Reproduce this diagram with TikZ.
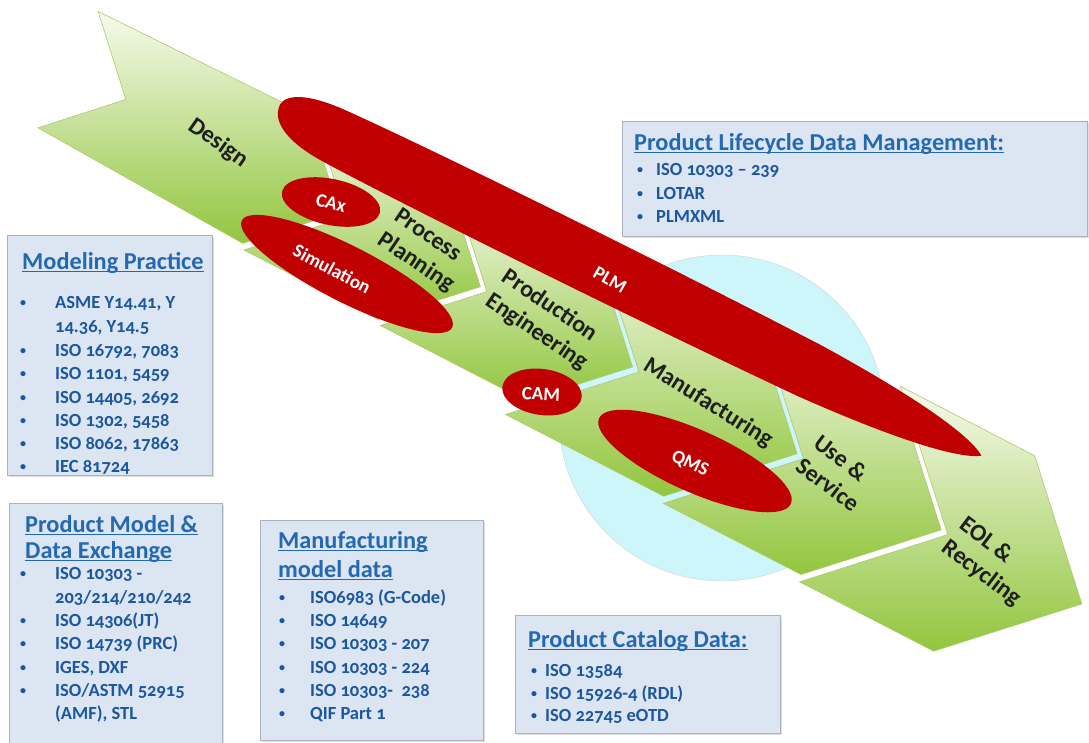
\documentclass[tikz,border=0pt]{standalone}
\usepackage{fontspec}
\setmainfont{Carlito}
\newfontfamily\numfont{Carlito}[Numbers=OldStyle]
\usetikzlibrary{shapes.geometric,shadows}
\definecolor{chevlight}{RGB}{246,250,236}
\definecolor{chevgreen}{RGB}{146,198,62}
\definecolor{chevline}{RGB}{176,200,110}
\definecolor{plmred}{RGB}{192,0,0}
\definecolor{cyanc}{RGB}{204,246,250}
\definecolor{boxfill}{RGB}{220,230,243}
\definecolor{boxline}{RGB}{170,178,192}
\definecolor{titleblue}{RGB}{36,104,178}
\definecolor{itemblue}{RGB}{28,86,158}
\begin{document}
\begin{tikzpicture}[x=1pt,y=-1pt,
  chev/.style={draw=chevline, line width=0.6pt, top color=chevlight, bottom color=chevgreen},
  redell/.style={ellipse, fill=plmred, draw=none, inner sep=0pt},
  redtxt/.style={text=white, font=\fontsize{19}{21}\selectfont\bfseries, inner sep=0pt},
  chevtxt/.style={font=\fontsize{24}{29}\selectfont\bfseries, text=black!88, align=left, inner sep=0pt},
  infobox/.style={draw=boxline, fill=boxfill, line width=0.8pt, anchor=north west, inner sep=0pt,
    drop shadow={opacity=0.25, shadow xshift=1.5pt, shadow yshift=-1.5pt}},
  titletxt/.style={anchor=base west, text=titleblue, font=\numfont\fontsize{24.3}{26}\selectfont\bfseries, inner sep=0pt},
  uline/.style={draw=titleblue, line width=1.1pt},
  itemtxt/.style={anchor=base west, text=itemblue, font=\numfont\fontsize{18.5}{22}\selectfont\bfseries, inner sep=0pt},
  bultxt/.style={anchor=base west, text=itemblue, font=\fontsize{12}{14}\selectfont\bfseries, inner sep=0pt, yshift=1.5pt}
]
\useasboundingbox (0,0) rectangle (1089,742);

% background circle
\node[circle, draw=gray!35, fill=cyanc, minimum size=326pt, inner sep=0pt] (cyc) at (722,418) {};

% chevrons
\begin{scope}[shift={(333,206)}, rotate=-27.33]
  \path[chev] (-298,-65) -- (-63,-69.4) -- (9,2.6) -- (-63,74.6) -- (-298,66) -- (-233,0.5) -- cycle;
  \path[chev] (-59,-72) -- (92,-72) -- (168,4) -- (92,80) -- (-59,80) -- (17,4) -- cycle;
  \path[chev] (97,-73.6) -- (261,-73.6) -- (340,5.4) -- (261,84.4) -- (97,84.4) -- (176,5.4) -- cycle;
  \path[chev] (249,-92) -- (427,-92) -- (526,7) -- (427,106) -- (249,106) -- (348,7) -- cycle;
  \path[chev] (430,-95.5) -- (585,-95.5) -- (689,8.5) -- (585,112.5) -- (430,112.5) -- (534,8.5) -- cycle;
  \path[chev] (587,-100.3) -- (738,-100.3) -- (848,9.7) -- (738,119.7) -- (587,119.7) -- (697,9.7) -- cycle;
\end{scope}

% PLM band
\begin{scope}[shift={(630,282)}, rotate=-26.3]
  \fill[plmred] (392,0) .. controls (372,-14) and (300,-24) .. (200,-28)
    .. controls (0,-32) and (-250,-31) .. (-330,-28)
    .. controls (-385,-26) and (-395,-10) .. (-392,0)
    .. controls (-390,12) and (-375,26) .. (-330,28)
    .. controls (-250,31) and (0,32) .. (200,28)
    .. controls (300,24) and (372,14) .. (392,0) -- cycle;
\end{scope}

% red ellipses
\node[redell, minimum width=236pt, minimum height=56pt, rotate=-27] (sim) at (347,274) {};
\node[redell, minimum width=100pt, minimum height=46pt, rotate=-12] (cax) at (331,202) {};
\node[redell, minimum width=80pt, minimum height=46pt, rotate=-8] (cam) at (542,392) {};
\node[redell, minimum width=210pt, minimum height=62pt, rotate=-24] (qms) at (695,461) {};

\node[redtxt, rotate=-30] (plmt) at (610,280) {PLM};
\node[redtxt, rotate=-15] (caxt) at (331,203) {CAx};
\node[redtxt, rotate=-28] (simt) at (332,269) {Simulation};
\node[redtxt, rotate=-3] (camt) at (541,394) {CAM};
\node[redtxt, rotate=-25] (qmst) at (690,464) {QMS};

% chevron labels
\node[chevtxt, rotate=-35] (tdes) at (218,143) {Design};
\node[chevtxt, rotate=-34] (tproc) at (424,251) {Process\\Planning};
\node[chevtxt, rotate=-34] (tprod) at (545,320) {Production\\Engineering};
\node[chevtxt, rotate=-32] (tmanu) at (708,403) {Manufacturing};
\node[chevtxt, rotate=-37] (tuse) at (837,473) {Use \&\\Service};
\node[chevtxt, rotate=-37] (teol) at (990,562) {EOL \&\\Recycling};

% Product Lifecycle Data Management box
\node[infobox, minimum width=465pt, minimum height=115pt] (plbox) at (622,121) {};
\node[titletxt] (plt) at (634,150) {Product Lifecycle Data Management:};
\draw[uline] ([yshift=-2.5pt]plt.base west) -- ([yshift=-2.5pt]plt.base east);
\node[bultxt] (plb1) at (637,175) {•};
\node[itemtxt] (pli1) at (656,175) {ISO 10303 – 239};
\node[bultxt] (plb2) at (637,199) {•};
\node[itemtxt] (pli2) at (656,199) {LOTAR};
\node[bultxt] (plb3) at (637,222) {•};
\node[itemtxt] (pli3) at (656,222) {PLMXML};

% Modeling Practice box
\node[infobox, minimum width=205pt, minimum height=240pt] (mpbox) at (7,235) {};
\node[titletxt] (mpt) at (22,269) {Modeling Practice};
\draw[uline] ([yshift=-2.5pt]mpt.base west) -- ([yshift=-2.5pt]mpt.base east);
\node[bultxt] (mpb1) at (20,308) {•};
\node[itemtxt] (mpi1) at (55,308) {ASME Y14.41, Y};
\node[itemtxt] (mpi1b) at (55,332) {14.36, Y14.5};
\node[bultxt] (mpb2) at (20,356) {•};
\node[itemtxt] (mpi2) at (55,356) {ISO 16792, 7083};
\node[bultxt] (mpb3) at (20,379) {•};
\node[itemtxt] (mpi3) at (55,379) {ISO 1101, 5459};
\node[bultxt] (mpb4) at (20,403) {•};
\node[itemtxt] (mpi4) at (55,403) {ISO 14405, 2692};
\node[bultxt] (mpb5) at (20,426) {•};
\node[itemtxt] (mpi5) at (55,426) {ISO 1302, 5458};
\node[bultxt] (mpb6) at (20,449) {•};
\node[itemtxt] (mpi6) at (55,449) {ISO 8062, 17863};
\node[bultxt] (mpb7) at (20,472) {•};
\node[itemtxt] (mpi7) at (55,472) {IEC 81724};

% Product Model & Data Exchange box
\node[infobox, minimum width=213pt, minimum height=245pt] (pmbox) at (9,503) {};
\node[titletxt] (pmt1) at (25,532) {Product Model \&};
\draw[uline] ([yshift=-2.5pt]pmt1.base west) -- ([yshift=-2.5pt]pmt1.base east);
\node[titletxt] (pmt2) at (25,558) {Data Exchange};
\draw[uline] ([yshift=-2.5pt]pmt2.base west) -- ([yshift=-2.5pt]pmt2.base east);
\node[bultxt] (pmb1) at (20,579) {•};
\node[itemtxt] (pmi1) at (55,579) {ISO 10303 -};
\node[itemtxt] (pmi1b) at (55,603) {203/214/210/242};
\node[bultxt] (pmb2) at (20,626) {•};
\node[itemtxt] (pmi2) at (55,626) {ISO 14306(JT)};
\node[bultxt] (pmb3) at (20,649) {•};
\node[itemtxt] (pmi3) at (55,649) {ISO 14739 (PRC)};
\node[bultxt] (pmb4) at (20,673) {•};
\node[itemtxt] (pmi4) at (55,673) {IGES, DXF};
\node[bultxt] (pmb5) at (20,696) {•};
\node[itemtxt] (pmi5) at (55,696) {ISO/ASTM 52915};
\node[itemtxt] (pmi5b) at (55,719) {(AMF), STL};

% Manufacturing model data box
\node[infobox, minimum width=223pt, minimum height=220pt] (mmbox) at (260,520) {};
\node[titletxt] (mmt1) at (278,548) {Manufacturing};
\draw[uline] ([yshift=-2.5pt]mmt1.base west) -- ([yshift=-2.5pt]mmt1.base east);
\node[titletxt] (mmt2) at (278,577) {model data};
\draw[uline] ([yshift=-2.5pt]mmt2.base west) -- ([yshift=-2.5pt]mmt2.base east);
\node[bultxt] (mmb1) at (279,603) {•};
\node[itemtxt] (mmi1) at (310,603) {ISO6983 (G-Code)};
\node[bultxt] (mmb2) at (279,626) {•};
\node[itemtxt] (mmi2) at (310,626) {ISO 14649};
\node[bultxt] (mmb3) at (279,649) {•};
\node[itemtxt] (mmi3) at (310,649) {ISO 10303 - 207};
\node[bultxt] (mmb4) at (279,673) {•};
\node[itemtxt] (mmi4) at (310,673) {ISO 10303 - 224};
\node[bultxt] (mmb5) at (279,696) {•};
\node[itemtxt] (mmi5) at (310,696) {ISO 10303-\ \ 238};
\node[bultxt] (mmb6) at (279,719) {•};
\node[itemtxt] (mmi6) at (310,719) {QIF Part 1};

% Product Catalog Data box
\node[infobox, minimum width=265pt, minimum height=118pt] (pcbox) at (515,615) {};
\node[titletxt] (pct) at (528,647) {Product Catalog Data:};
\draw[uline] ([yshift=-2.5pt]pct.base west) -- ([yshift=-2.5pt]pct.base east);
\node[bultxt] (pcb1) at (531,676) {•};
\node[itemtxt] (pci1) at (545,676) {ISO 13584};
\node[bultxt] (pcb2) at (531,699) {•};
\node[itemtxt] (pci2) at (545,699) {ISO 15926-4 (RDL)};
\node[bultxt] (pcb3) at (531,721) {•};
\node[itemtxt] (pci3) at (545,721) {ISO 22745 eOTD};
\end{tikzpicture}
\end{document}
